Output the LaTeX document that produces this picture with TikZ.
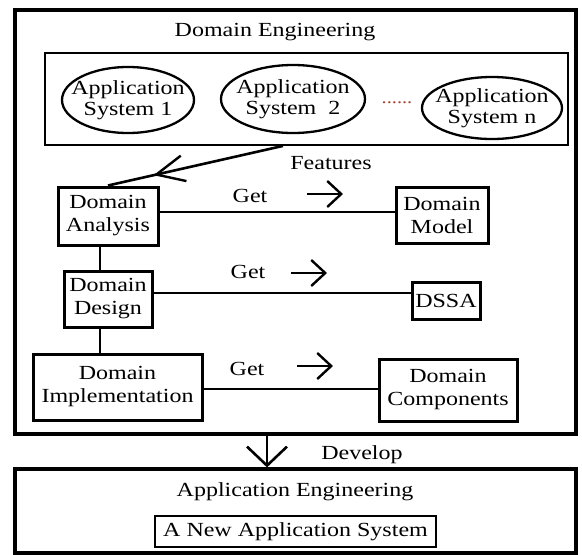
\documentclass[tikz,border=0pt]{standalone}
\usepackage{fontspec}
\setmainfont[FakeStretch=1.2]{Liberation Serif}
\usetikzlibrary{arrows.meta,decorations.markings,calc}
\definecolor{dotred}{RGB}{160,60,40}
\begin{document}
\begin{tikzpicture}[x=1pt,y=-1pt,
  font=\fontsize{20}{23}\selectfont,
  box/.style={draw, line width=3pt, inner sep=0pt, align=center},
  thinbox/.style={draw, line width=1.8pt, inner sep=0pt, align=center},
  conn/.style={line width=2.6pt},
  oval/.style={line width=2.3pt},
  lbl/.style={inner sep=0pt},
  ovaltext/.style={inner sep=0pt, align=center, font=\fontsize{20}{21}\selectfont},
  barb/.style={line width=2.4pt, -{Straight Barb[length=14pt,width=26pt]}}]
\useasboundingbox (0,0) rectangle (582,555);

% outer boxes
\node[box, line width=3.2pt, minimum width=561pt, minimum height=424pt] (de) at (295.5,222) {};
\node[box, line width=3.2pt, minimum width=561pt, minimum height=84pt] (ae) at (295.5,511) {};
\node[lbl, anchor=base] (detitle) at (275,36) {Domain Engineering};
\node[lbl, anchor=base] (aetitle) at (295,496) {Application Engineering};

% application systems
\node[thinbox, minimum width=523pt, minimum height=92pt] (apps) at (306.5,99) {};
\node[ovaltext] (e1) at (128,100) {Application\\System 1};
\node[ovaltext] (e2) at (293,99) {Application\\System\ \ 2};
\node[ovaltext] (en) at (492,108) {Application\\System n};
\draw[oval] (e1.center) ellipse [x radius=66pt, y radius=33pt];
\draw[oval] (e2.center) ellipse [x radius=72pt, y radius=34pt];
\draw[oval] (en.center) ellipse [x radius=70pt, y radius=31pt];
\node[lbl, anchor=base, text=dotred, font=\fontsize{17}{20}\selectfont] (dots) at (397,103) {......};

% domain engineering steps
\node[box, minimum width=100pt, minimum height=58pt] (da) at (108,216) {Domain\\Analysis};
\node[box, minimum width=92pt, minimum height=56pt] (dm) at (442,215) {Domain\\Model};
\node[box, minimum width=88pt, minimum height=56pt] (dd) at (108,299) {Domain\\Design};
\node[box, minimum width=68pt, minimum height=37pt] (dssa) at (446,300.5) {DSSA};
\node[box, minimum width=169pt, minimum height=66pt] (di) at (117.5,387) {Domain\\Implementation};
\node[box, minimum width=138pt, minimum height=62pt] (dc) at (448,390) {Domain\\Components};

% features arrow
\path (apps.south) ++(-23.5,0) coordinate (fs);
\draw[conn, postaction={decorate},
  decoration={markings, mark=at position 0.74 with {\arrow[line width=2.4pt]{Straight Barb[length=28pt,width=26pt]}}}]
  (fs) -- (da.north);
\node[lbl, anchor=base] (feat) at (331,169) {Features};

% horizontal connectors
\draw[conn] ([yshift=4pt]da.east) -- ([yshift=4pt]da.east -| dm.west);
\draw[conn] ([yshift=6pt]dd.east) -- ([yshift=6pt]dd.east -| dssa.west);
\draw[conn] ([yshift=-2pt]di.east) -- ([yshift=-2pt]di.east -| dc.west);

% vertical connectors
\draw[conn] ([xshift=-8pt]da.south) -- ([xshift=-8pt]da.south |- dd.north);
\draw[conn] ([xshift=-8pt]dd.south) -- ([xshift=-8pt]dd.south |- di.north);

% Get labels and arrows
\node[lbl, anchor=base] (get1) at (250,202) {Get};
\node[lbl, anchor=base] (get2) at (248,278) {Get};
\node[lbl, anchor=base] (get3) at (247,375) {Get};
\coordinate (g1a) at (307,194); \coordinate (g1b) at (343,194);
\coordinate (g2a) at (291,273); \coordinate (g2b) at (327,273);
\coordinate (g3a) at (297,366); \coordinate (g3b) at (333,366);
\draw[barb] (g1a) -- (g1b);
\draw[barb] (g2a) -- (g2b);
\draw[barb] (g3a) -- (g3b);

% develop arrow
\draw[conn, -{Straight Barb[length=19pt,width=40pt]}] ([xshift=-28.5pt]de.south) -- ([xshift=-28.5pt]de.south |- ae.north);
\node[lbl, anchor=base] (dev) at (362,459) {Develop};

% new application system
\node[thinbox, line width=1.6pt, minimum width=281pt, minimum height=31pt] (nas) at (295.5,531.5) {A New Application System};
\end{tikzpicture}
\end{document}
